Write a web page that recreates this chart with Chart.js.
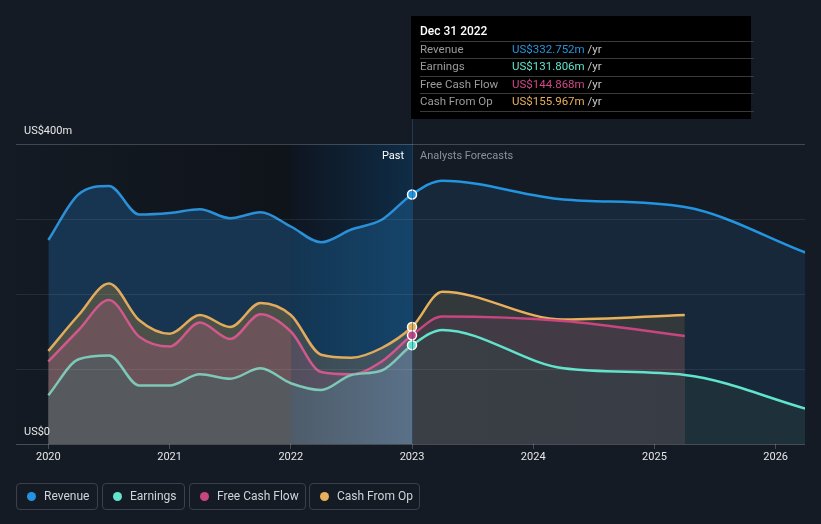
<!DOCTYPE html>
<html>
<head>
<meta charset="utf-8">
<script src="https://cdn.jsdelivr.net/npm/chart.js@4/dist/chart.umd.min.js"></script>
<style>
    html, body { margin: 0; padding: 0; background: #151b25; }
    body { width: 821px; height: 524px; position: relative; overflow: hidden; font-family: Roboto, 'Noto Sans', sans-serif; }
    #wrap { position: absolute; left: 0; top: 0; width: 821px; height: 524px; }
    #tip { position: absolute; left: 411px; top: 16px; width: 340px; height: 103px; background: #000; }
    #tip .title { position: absolute; left: 9px; top: 8px; font-size: 12px; font-weight: 500; color: #fff; line-height: 14px; }
    #tip .sep { position: absolute; left: 9px; width: 334px; height: 1px; background: #3a3a3a; }
    #tip .row { position: absolute; left: 9px; font-size: 11.5px; line-height: 14px; color: #9b9b9b; width: 330px; }
    #tip .row .v { position: absolute; left: 92px; }
    #tip .row .u { color: #c8c8c8; }
    .legend { position: absolute; top: 483px; height: 25px; border: 1px solid #3a414b; border-radius: 4px; font-size: 12px; color: #d0d4d8; line-height: 25px; box-sizing: content-box; }
    .legend i { position: absolute; left: 10px; top: 8px; width: 9px; height: 9px; border-radius: 50%; }
    .legend span { position: absolute; left: 27px; }
</style>
</head>
<body>
<div id="wrap"><canvas id="chart"></canvas></div>
<div id="tip"></div>
<div id="legend"></div>
<script>
// 資料
const pastYears = [2020, 2020.25, 2020.5, 2020.75, 2021, 2021.25, 2021.5, 2021.75, 2022, 2022.25, 2022.5, 2022.75, 2023];
const forecastYears = [2023.25, 2024.25, 2025.25, 2026.25];

const revenuePast = [272, 333, 344, 306, 308, 313, 301, 309, 290, 269, 286, 299, 332.752];
const earningsPast = [65, 113, 118, 78, 78, 93, 87, 101, 81, 72, 92, 98, 131.806];
const fcfPast = [110, 152, 192, 143, 130, 162, 140, 173, 150, 96, 93, 110, 144.868];
const cfoPast = [124, 172, 214, 165, 147, 172, 156, 188, 172, 119, 115, 128, 155.967];

const revenueForecast = [351, 326, 316, 255];
const earningsForecast = [152, 101, 92, 47];
const fcfForecast = [170, 164, 144];
const cfoForecast = [203, 166, 172];

const tickYears = [2020, 2021, 2022, 2023, 2024, 2025, 2026];
const yTicks = [0, 100, 200, 300, 400];

const X_MIN = 2019.733, X_MAX = 2026.242;

function toPoints(past, forecast) {
    const pts = pastYears.map((x, i) => ({ x: x, y: past[i] }));
    forecast.forEach((v, i) => pts.push({ x: forecastYears[i], y: v }));
    return pts;
}

// 水平漸層填色
function hGradient(chart, stops) {
    const { ctx, chartArea, scales } = chart;
    if (!chartArea || !scales.x) return 'transparent';
    const w = chartArea.right - chartArea.left;
    const g = ctx.createLinearGradient(chartArea.left, 0, chartArea.right, 0);
    stops.forEach(([yr, c]) => {
        let p = (scales.x.getPixelForValue(yr) - chartArea.left) / w;
        g.addColorStop(Math.min(1, Math.max(0, p)), c);
    });
    return g;
}

const series = [
    {
        label: 'Revenue', past: revenuePast, forecast: revenueForecast, order: 4,
        color: '#2394df', pastColor: '#2a90d8',
        fill: [[X_MIN, '#173550'], [2022, '#173550'], [2022, '#133552'], [2023, '#15446a'], [2023, '#16283a'], [X_MAX, '#16283a']]
    },
    {
        label: 'Cash From Op', past: cfoPast, forecast: cfoForecast, order: 3,
        color: '#e8b05a', pastColor: '#e2aa5c',
        fill: [[X_MIN, '#4b5048'], [2022, '#4b5048'], [2022, '#3b4a52'], [2023, '#405664'], [2023, '#33393b'], [X_MAX, '#33393b']]
    },
    {
        label: 'Free Cash Flow', past: fcfPast, forecast: fcfForecast, order: 2,
        color: '#c8467f', pastColor: '#d0588a',
        fill: [[X_MIN, '#6a5359'], [2022, '#6a5359'], [2022, '#534e5e'], [2023, '#5a5a70'], [2023, '#423a45'], [X_MAX, '#423a45']]
    },
    {
        label: 'Earnings', past: earningsPast, forecast: earningsForecast, order: 1,
        color: '#62e3cc', pastColor: '#7ec8b8',
        fill: [[X_MIN, '#56595e'], [2022, '#56595e'], [2022, '#4e5c6a'], [2023, '#5a7188'], [2023, '#3a3f46'], [2025.25, '#383d45'], [2025.25, '#1e313a'], [X_MAX, '#1e313a']]
    }
];

const datasets = series.map(s => ({
    label: s.label,
    data: toPoints(s.past, s.forecast),
    order: s.order,
    borderColor: s.color,
    borderWidth: 2.5,
    cubicInterpolationMode: 'monotone',
    segment: {
        borderColor: ctx => ctx.p1.parsed.x <= 2023 ? s.pastColor : s.color
    },
    fill: 'origin',
    backgroundColor: ctx => hGradient(ctx.chart, s.fill),
    pointRadius: ctx => (ctx.raw && ctx.raw.x === 2023) ? 4.5 : 0,
    pointHoverRadius: 0,
    pointBackgroundColor: s.color,
    pointBorderColor: '#ffffff',
    pointBorderWidth: 1.5
}));

// 背景區塊與文字
const decorPlugin = {
    id: 'decor',
    beforeDatasetsDraw(chart) {
        const { ctx, chartArea: a, scales: { x } } = chart;
        const x22 = x.getPixelForValue(2022);
        const x23 = x.getPixelForValue(2023);
        ctx.save();
        let g = ctx.createLinearGradient(a.left, 0, x22, 0);
        g.addColorStop(0, '#141a23');
        g.addColorStop(1, '#0f141b');
        ctx.fillStyle = g;
        ctx.fillRect(a.left, a.top, x22 - a.left, a.bottom - a.top);
        g = ctx.createLinearGradient(x22, 0, x23, 0);
        g.addColorStop(0, '#0e1520');
        g.addColorStop(1, '#0f2c46');
        ctx.fillStyle = g;
        ctx.fillRect(x22, a.top, x23 - x22, a.bottom - a.top);
        ctx.restore();
    },
    afterDatasetsDraw(chart) {
        const { ctx, chartArea: a, scales: { x, y } } = chart;
        const x23 = x.getPixelForValue(2023);
        ctx.save();
        ctx.strokeStyle = 'rgba(40, 85, 130, 0.55)';
        ctx.lineWidth = 1;
        ctx.beginPath();
        ctx.moveTo(Math.round(x23) + 0.5, 119);
        ctx.lineTo(Math.round(x23) + 0.5, a.bottom);
        ctx.stroke();

        ctx.font = '11px Roboto, sans-serif';
        ctx.textBaseline = 'middle';
        ctx.textAlign = 'right';
        ctx.fillStyle = '#ffffff';
        ctx.fillText('Past', x23 - 8, a.top + 12);
        ctx.textAlign = 'left';
        ctx.fillStyle = '#8c9198';
        ctx.fillText('Analysts Forecasts', x23 + 8, a.top + 12);

        ctx.fillStyle = '#e6e6e6';
        ctx.fillText('US$400m', 24, y.getPixelForValue(400) - 13);
        ctx.fillText('US$0', 24, y.getPixelForValue(0) - 12);
        ctx.restore();
    }
};

new Chart(document.getElementById('chart').getContext('2d'), {
    type: 'line',
    data: { datasets: datasets },
    options: {
        responsive: true,
        maintainAspectRatio: false,
        animation: false,
        layout: { padding: { left: 16, right: 16, top: 144, bottom: 56 } },
        plugins: {
            legend: { display: false },
            tooltip: { enabled: false }
        },
        scales: {
            x: {
                type: 'linear',
                min: X_MIN,
                max: X_MAX,
                afterBuildTicks: s => { s.ticks = tickYears.map(v => ({ value: v })); },
                afterFit: s => { s.height = 24; },
                ticks: {
                    includeBounds: false,
                    autoSkip: false,
                    maxRotation: 0,
                    padding: 2,
                    color: '#e6e6e6',
                    font: { family: 'Roboto', size: 11 },
                    callback: v => String(v)
                },
                grid: { drawOnChartArea: false, drawTicks: true, tickLength: 5, color: 'rgba(255,255,255,0.22)', z: 1 },
                border: { display: false }
            },
            y: {
                min: 0,
                max: 400,
                afterBuildTicks: s => { s.ticks = yTicks.map(v => ({ value: v })); },
                afterFit: s => { s.width = 0; },
                ticks: { display: false },
                grid: {
                    drawTicks: false,
                    z: 1,
                    color: c => {
                        const v = c.tick ? c.tick.value : -1;
                        if (v === 400) return 'rgba(255,255,255,0.2)';
                        if (v === 0) return 'rgba(255,255,255,0.22)';
                        return 'rgba(255,255,255,0.08)';
                    }
                },
                border: { display: false }
            }
        }
    },
    plugins: [decorPlugin]
});

// 提示框
const tipRows = [
    ['Revenue', 'US$332.752m', '#2394df'],
    ['Earnings', 'US$131.806m', '#62e3cc'],
    ['Free Cash Flow', 'US$144.868m', '#d0478a'],
    ['Cash From Op', 'US$155.967m', '#e8b05a']
];
const tip = document.getElementById('tip');
let html = '<div class="title">Dec 31 2022</div>';
const sepTops = [25, 42, 60, 77, 95];
sepTops.forEach(t => { html += `<div class="sep" style="top:${t}px"></div>`; });
const rowTops = [26, 43, 61, 78];
tipRows.forEach((r, i) => {
    html += `<div class="row" style="top:${rowTops[i]}px">${r[0]}<span class="v"><span style="color:${r[2]}">${r[1]}</span> <span class="u">/yr</span></span></div>`;
});
tip.innerHTML = html;

// 圖例
const legendItems = [
    ['Revenue', '#2394df', 16, 80],
    ['Earnings', '#62e3cc', 102, 81],
    ['Free Cash Flow', '#c8467f', 189, 115],
    ['Cash From Op', '#e8b05a', 309, 109]
];
document.getElementById('legend').innerHTML = legendItems.map(l =>
    `<div class="legend" style="left:${l[2]}px;width:${l[3]}px"><i style="background:${l[1]}"></i><span>${l[0]}</span></div>`
).join('');
</script>
</body>
</html>
